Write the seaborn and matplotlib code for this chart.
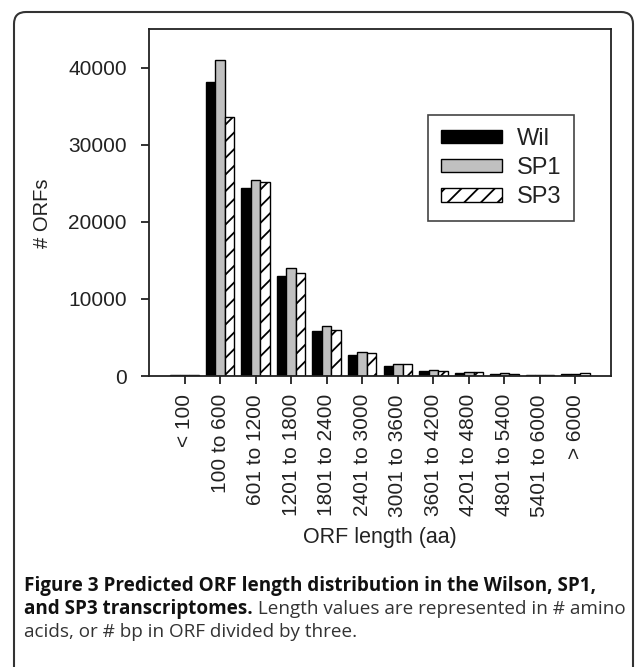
import numpy as np
import pandas as pd
import matplotlib
matplotlib.use('Agg')
import matplotlib.pyplot as plt
import matplotlib.transforms as mtransforms
from matplotlib.patches import FancyBboxPatch, Patch
import seaborn as sns

sns.set_style('ticks')
plt.rcParams['font.family'] = ['Liberation Sans', 'DejaVu Sans']
plt.rcParams['hatch.linewidth'] = 1.3

# ORF length bins and counts per transcriptome
bins = ['< 100', '100 to 600', '601 to 1200', '1201 to 1800', '1801 to 2400',
        '2401 to 3000', '3001 to 3600', '3601 to 4200', '4201 to 4800',
        '4801 to 5400', '5401 to 6000', '> 6000']
wil = [120, 38100, 24350, 12950, 5780, 2670, 1290, 650, 350, 260, 170, 260]
sp1 = [120, 41000, 25450, 14000, 6420, 3100, 1510, 820, 480, 350, 170, 300]
sp3 = [120, 33650, 25100, 13300, 5950, 2930, 1500, 700, 560, 300, 150, 420]
series = ['Wil', 'SP1', 'SP3']
colors = ['black', '#c0c0c0', 'white']

df = pd.DataFrame({'bin': bins * 3,
                   'set': np.repeat(series, len(bins)),
                   'count': wil + sp1 + sp3})

W, H = 636, 667
fig = plt.figure(figsize=(W / 100, H / 100), dpi=100)
ax = fig.add_axes([149 / W, 1 - 376 / H, (611 - 149) / W, (376 - 29) / H])

sns.barplot(data=df, x='bin', y='count', hue='set', palette=colors,
            saturation=1, edgecolor='black', linewidth=1, width=0.8,
            legend=False, ax=ax)
for bar in ax.containers[2]:
    bar.set_hatch('//')

ax.set_xlim(-1, 12)
ax.set_ylim(0, 45000)
ax.set_yticks([0, 10000, 20000, 30000, 40000])
ax.set_xticks(range(len(bins)))
ax.set_xticklabels(bins, rotation=90)
ax.tick_params(axis='both', labelsize=15, length=6, width=1.3, colors='#222')
ax.tick_params(axis='y', pad=10)
ax.tick_params(axis='x', pad=7)
for s in ax.spines.values():
    s.set_linewidth(1.3)
    s.set_color('#222')
ax.set_xlabel('ORF length (aa)', fontsize=15.5, color='#222', va='center')
ax.set_ylabel('# ORFs', fontsize=14.5, color='#222', va='center')
ax.xaxis.set_label_coords(0.5, (376 - 537) / 347)
ax.yaxis.set_label_coords((42 - 149) / 462, 0.47)

handles = [Patch(facecolor=c, edgecolor='black', linewidth=1) for c in colors]
handles[2].set_hatch('//')
leg = ax.legend(handles, series, loc='upper left', bbox_to_anchor=(0.604, 0.752),
                fontsize=17, handlelength=2.6, handleheight=0.5,
                handletextpad=0.6, labelspacing=0.3, borderpad=0.55,
                borderaxespad=0, fancybox=False, framealpha=1)
leg.get_frame().set_edgecolor('#444')
leg.get_frame().set_linewidth(1.2)
for t in leg.get_texts():
    t.set_color('#222')

# outer rounded frame of the figure panel
box = FancyBboxPatch((14, -30), 619, H - 12 + 30,
                     boxstyle='round,pad=0,rounding_size=12',
                     transform=mtransforms.IdentityTransform(),
                     facecolor='none', edgecolor='#333', linewidth=1.5)
fig.patches.append(box)

# caption
cap = ['Open Sans', 'DejaVu Sans']
fs = 13.6
x0 = 24
fig.text(x0 / W, 1 - 586 / H,
         'Figure 3 Predicted ORF length distribution in the Wilson, SP1,',
         fontsize=fs, fontweight='bold', family=cap, va='center', color='#111')
t2 = fig.text(x0 / W, 1 - 609 / H, 'and SP3 transcriptomes.', fontsize=fs,
              fontweight='bold', family=cap, va='center', color='#111')
fig.canvas.draw()
x2 = t2.get_window_extent().x1
fig.text(x2 / W, 1 - 609 / H, ' Length values are represented in # amino',
         fontsize=fs, family=cap, va='center', color='#333')
fig.text(x0 / W, 1 - 632 / H, 'acids, or # bp in ORF divided by three.',
         fontsize=fs, family=cap, va='center', color='#333')

fig.savefig('out.png', dpi=100)
